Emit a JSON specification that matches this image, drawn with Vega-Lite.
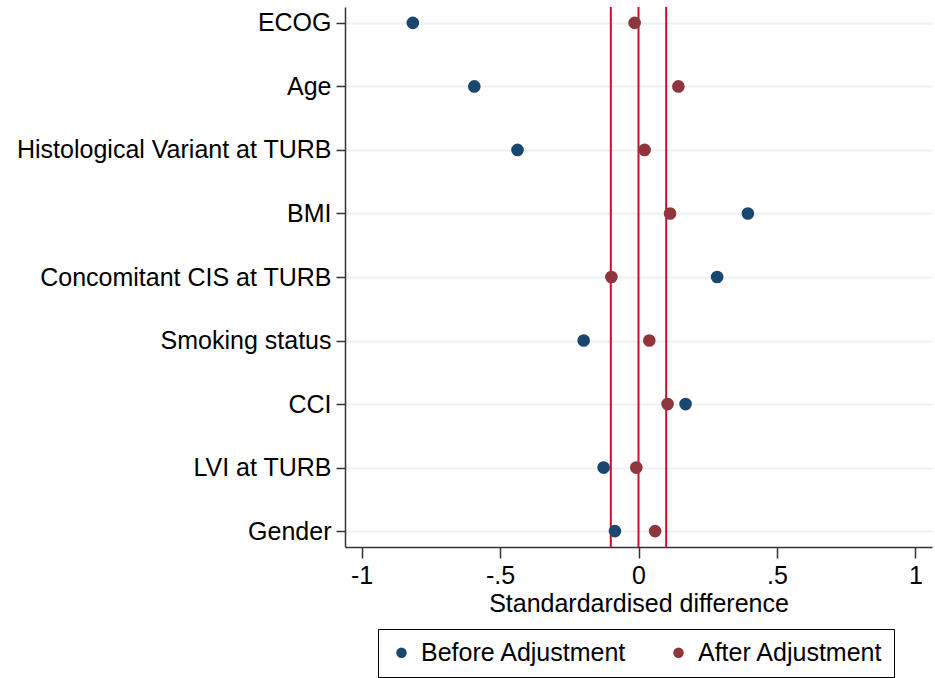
{
  "$schema": "https://vega.github.io/schema/vega-lite/v6.json",
  "autosize": "none",
  "width": 587,
  "height": 540,
  "padding": {"left": 345, "top": 7, "right": 3, "bottom": 131},
  "background": "white",
  "config": {
    "view": {"stroke": null},
    "font": "Liberation Sans",
    "axis": {"labelFont": "Liberation Sans", "titleFont": "Liberation Sans", "labelColor": "black", "titleColor": "black", "domainColor": "#333333", "domainWidth": 1.5, "tickColor": "#333333", "tickWidth": 1.5},
    "legend": {"labelFont": "Liberation Sans"}
  },
  "datasets": {
    "pts": [
      {"variable": "ECOG", "group": "Before Adjustment", "value": -0.815},
      {"variable": "ECOG", "group": "After Adjustment", "value": -0.014},
      {"variable": "Age", "group": "Before Adjustment", "value": -0.593},
      {"variable": "Age", "group": "After Adjustment", "value": 0.144},
      {"variable": "Histological Variant at TURB", "group": "Before Adjustment", "value": -0.437},
      {"variable": "Histological Variant at TURB", "group": "After Adjustment", "value": 0.022},
      {"variable": "BMI", "group": "Before Adjustment", "value": 0.395},
      {"variable": "BMI", "group": "After Adjustment", "value": 0.114},
      {"variable": "Concomitant CIS at TURB", "group": "Before Adjustment", "value": 0.284},
      {"variable": "Concomitant CIS at TURB", "group": "After Adjustment", "value": -0.098},
      {"variable": "Smoking status", "group": "Before Adjustment", "value": -0.198},
      {"variable": "Smoking status", "group": "After Adjustment", "value": 0.039},
      {"variable": "CCI", "group": "Before Adjustment", "value": 0.17},
      {"variable": "CCI", "group": "After Adjustment", "value": 0.105},
      {"variable": "LVI at TURB", "group": "Before Adjustment", "value": -0.126},
      {"variable": "LVI at TURB", "group": "After Adjustment", "value": -0.008},
      {"variable": "Gender", "group": "Before Adjustment", "value": -0.085},
      {"variable": "Gender", "group": "After Adjustment", "value": 0.06}
    ],
    "refs": [{"ref": -0.1}, {"ref": 0}, {"ref": 0.1}]
  },
  "layer": [
    {
      "data": {"name": "pts"},
      "mark": {"type": "tick", "opacity": 0},
      "encoding": {
        "y": {
          "field": "variable", "type": "nominal",
          "sort": ["ECOG", "Age", "Histological Variant at TURB", "BMI", "Concomitant CIS at TURB", "Smoking status", "CCI", "LVI at TURB", "Gender"],
          "scale": {"type": "point", "padding": 0.25},
          "axis": {"title": null, "grid": true, "gridColor": "#eaf2f3", "gridWidth": 2, "labelFontSize": 25, "labelLimit": 0, "tickSize": 9, "labelPadding": 5}
        },
        "x": {"field": "value", "type": "quantitative", "scale": {"domain": [-1.06, 1.06], "nice": false, "zero": false}}
      }
    },
    {
      "data": {"name": "refs"},
      "mark": {"type": "rule", "color": "#c8102e", "strokeWidth": 2},
      "encoding": {
        "x": {"field": "ref", "type": "quantitative"}
      }
    },
    {
      "data": {"name": "pts"},
      "mark": {"type": "point", "filled": true, "shape": "circle", "size": 160, "opacity": 1},
      "encoding": {
        "y": {
          "field": "variable", "type": "nominal",
          "sort": ["ECOG", "Age", "Histological Variant at TURB", "BMI", "Concomitant CIS at TURB", "Smoking status", "CCI", "LVI at TURB", "Gender"]
        },
        "x": {
          "field": "value", "type": "quantitative",
          "axis": {
            "title": "Standardardised difference", "titleFontSize": 25, "titleFontWeight": "normal", "titlePadding": 3,
            "values": [-1, -0.5, 0, 0.5, 1],
            "labelExpr": "datum.value == -1 ? '-1' : datum.value == -0.5 ? '-.5' : datum.value == 0 ? '0' : datum.value == 0.5 ? '.5' : '1'",
            "labelFontSize": 25, "tickSize": 11, "labelPadding": 5, "grid": false
          }
        },
        "color": {
          "field": "group", "type": "nominal",
          "scale": {"domain": ["Before Adjustment", "After Adjustment"], "range": ["#1a476f", "#90353b"]},
          "legend": {
            "title": null, "orient": "none", "legendX": 33, "legendY": 622,
            "direction": "horizontal", "strokeColor": "black", "fillColor": "white",
            "padding": 11, "columnPadding": 39, "labelFontSize": 25, "labelLimit": 0, "labelColor": "black",
            "symbolType": "circle", "symbolSize": 110, "labelOffset": 7, "cornerRadius": 0
          }
        }
      }
    }
  ]
}
